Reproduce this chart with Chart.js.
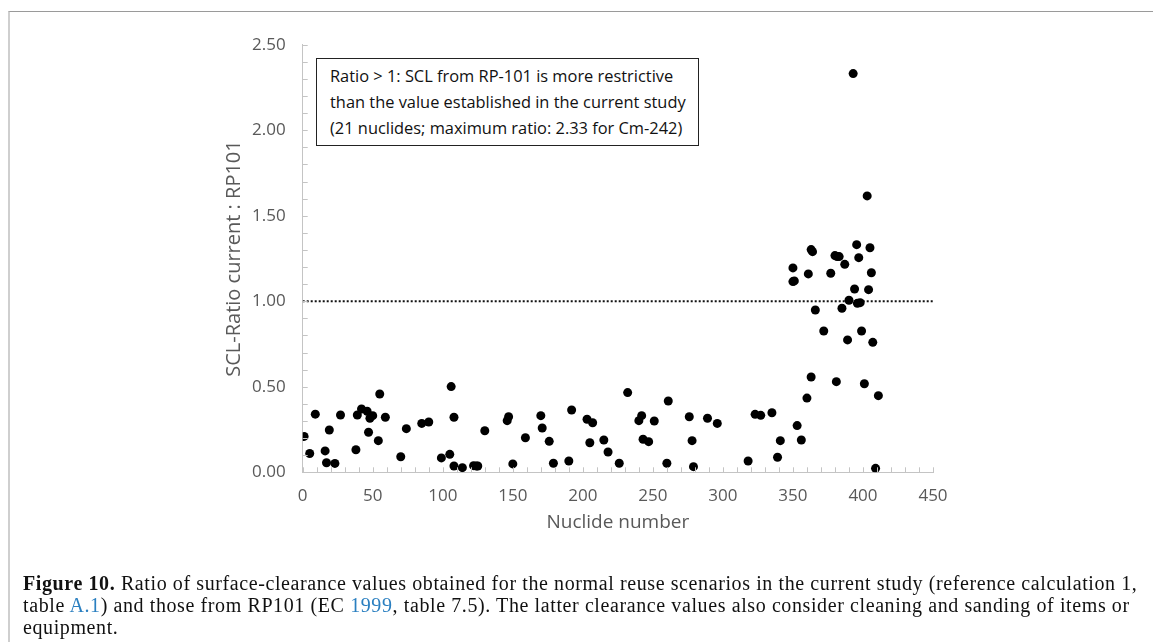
<!DOCTYPE html>
<html lang="en">
<head>
    <meta charset="UTF-8">
    <title>SCL ratio current : RP101</title>
    <style>
        body {
            margin: 0;
            background: #fff;
            width: 1153px;
            height: 642px;
            overflow: hidden;
            position: relative;
        }

        .frame {
            position: absolute;
            left: 8px;
            top: 11px;
            right: 0;
            bottom: 0;
            border-top: 1px solid #9a9a9a;
            border-left: 2px solid #cfcfcf;
        }

        #chart {
            position: absolute;
            left: 0;
            top: 0;
        }

        .note {
            position: absolute;
            left: 316px;
            top: 58px;
            width: 383px;
            height: 88px;
            border: 1px solid #222;
            background: #fff;
            font-family: 'Open Sans', sans-serif;
            font-size: 16.4px;
            line-height: 26px;
            color: #111;
            padding: 4px 0 0 13px;
            box-sizing: border-box;
            white-space: nowrap;
        }

        .caption {
            position: absolute;
            left: 23px;
            top: 572px;
            font-family: 'Liberation Serif', serif;
            font-size: 20px;
            letter-spacing: 0.6px;
            line-height: 22px;
            color: #111;
            white-space: nowrap;
        }

        .caption a {
            color: #2a7fc0;
            text-decoration: none;
        }
    </style>
    <script src="https://cdn.jsdelivr.net/npm/chart.js"></script>
</head>
<body>
    <div class="frame"></div>
    <canvas id="chart" width="1153" height="642"></canvas>
    <div class="note">
        Ratio &gt; 1: SCL from RP-101 is more restrictive<br>
        than the value established in the current study<br>
        (21 nuclides; maximum ratio: 2.33 for Cm-242)
    </div>
    <div class="caption">
        <b>Figure 10.</b> Ratio of surface-clearance values obtained for the normal reuse scenarios in the current study (reference calculation 1,<br>
        table <a href="#">A.1</a>) and those from RP101 (EC <a href="#">1999</a>, table 7.5). The latter clearance values also consider cleaning and sanding of items or<br>
        equipment.
    </div>
    <script>
        // nuclide index (x) and ratio current : RP101 (y)
        const nuclideNumbers = [
            1, 5, 9, 16, 17, 19, 23, 27, 38, 39,
            42, 46, 47, 48, 50, 54, 55, 59, 70, 74,
            85, 90, 99, 105, 106, 108, 108, 114, 122, 124,
            125, 130, 146, 147, 150, 159, 170, 171, 176, 179,
            190, 192, 203, 205, 207, 215, 218, 226, 232, 240,
            242, 243, 247, 251, 260, 261, 276, 278, 279, 289,
            296, 318, 323, 327, 335, 339, 341,
            350, 350, 351, 353, 356, 360, 361, 363, 363, 364,
            366, 372, 377, 380, 381, 381.5, 383, 385, 387, 389,
            390, 393, 394, 395.5, 396, 397, 398, 399, 401, 403,
            404, 405, 406, 407, 409, 411
        ];
        const ratios = [
            0.21, 0.11, 0.34, 0.125, 0.056, 0.247, 0.052, 0.335, 0.132, 0.335,
            0.37, 0.357, 0.234, 0.316, 0.331, 0.185, 0.458, 0.322, 0.091, 0.255,
            0.286, 0.294, 0.084, 0.105, 0.501, 0.322, 0.037, 0.027, 0.039, 0.037,
            0.037, 0.243, 0.302, 0.325, 0.049, 0.202, 0.331, 0.259, 0.181, 0.053,
            0.066, 0.364, 0.31, 0.173, 0.29, 0.189, 0.119, 0.053, 0.466, 0.302,
            0.331, 0.193, 0.179, 0.3, 0.053, 0.417, 0.325, 0.185, 0.033, 0.316,
            0.286, 0.066, 0.339, 0.333, 0.348, 0.088, 0.185,
            1.115, 1.195, 1.119, 0.273, 0.189, 0.434, 1.16, 0.557, 1.302, 1.29,
            0.949, 0.826, 1.164, 1.267, 0.53, 1.261, 1.261, 0.959, 1.216, 0.774,
            1.006, 2.331, 1.072, 1.331, 0.988, 1.255, 0.992, 0.826, 0.518, 1.616,
            1.068, 1.313, 1.167, 0.76, 0.023, 0.448
        ];

        const xRange = [0, 450];
        const yRange = [0, 2.5];
        const xLabelStep = 50;
        const yLabelStep = 0.5;
        const xMinorStep = 10;
        const yMinorStep = 0.1;
        const referenceRatio = 1;

        const points = nuclideNumbers.map((n, i) => ({ x: n, y: ratios[i] }));
        const refLine = xRange.map(x => ({ x: x, y: referenceRatio }));

        const axisGrey = '#c4c4c4';
        const textGrey = '#595959';

        // small tick marks pointing into the plot, like the original
        const insideTicks = {
            id: 'insideTicks',
            afterDraw(chart) {
                const ctx = chart.ctx;
                const xs = chart.scales.x;
                const ys = chart.scales.y;
                const len = 5;
                ctx.save();
                ctx.strokeStyle = axisGrey;
                ctx.lineWidth = 1;
                ctx.beginPath();
                for (let v = xRange[0]; v <= xRange[1] + 1e-9; v += xMinorStep) {
                    const px = Math.round(xs.getPixelForValue(v)) + 0.5;
                    ctx.moveTo(px, ys.bottom);
                    ctx.lineTo(px, ys.bottom - len);
                }
                for (let v = yRange[0]; v <= yRange[1] + 1e-9; v += yMinorStep) {
                    const py = Math.round(ys.getPixelForValue(v)) + 0.5;
                    ctx.moveTo(xs.left, py);
                    ctx.lineTo(xs.left + len, py);
                }
                ctx.stroke();
                ctx.restore();
            }
        };

        new Chart(document.getElementById('chart'), {
            type: 'scatter',
            data: {
                datasets: [{
                    label: 'Ratio',
                    data: points,
                    backgroundColor: '#000',
                    borderWidth: 0,
                    pointRadius: 4.5
                }, {
                    type: 'line',
                    label: 'Ratio = 1',
                    data: refLine,
                    borderColor: '#111',
                    borderWidth: 2,
                    borderDash: [2, 2],
                    pointRadius: 0,
                    fill: false
                }]
            },
            options: {
                responsive: false,
                animation: false,
                layout: {
                    padding: { left: 218, right: 220, top: 44.7, bottom: 103.6 }
                },
                plugins: {
                    legend: { display: false },
                    tooltip: { enabled: false }
                },
                scales: {
                    x: {
                        type: 'linear',
                        min: xRange[0],
                        max: xRange[1],
                        afterFit: axis => { axis.height = 66.1; },
                        grid: { display: false },
                        border: { color: axisGrey },
                        ticks: {
                            stepSize: xLabelStep,
                            padding: 6,
                            color: textGrey,
                            font: { family: 'Open Sans', size: 17 }
                        },
                        title: {
                            display: true,
                            text: 'Nuclide number',
                            color: textGrey,
                            font: { family: 'Open Sans', size: 19 }
                        }
                    },
                    y: {
                        min: yRange[0],
                        max: yRange[1],
                        afterFit: axis => { axis.width = 84.7; },
                        grid: { display: false },
                        border: { color: axisGrey },
                        ticks: {
                            stepSize: yLabelStep,
                            padding: 9,
                            color: textGrey,
                            font: { family: 'Open Sans', size: 17 },
                            callback: v => v.toFixed(2)
                        },
                        title: {
                            display: true,
                            text: 'SCL-Ratio current : RP101',
                            color: textGrey,
                            font: { family: 'Open Sans', size: 20 }
                        }
                    }
                }
            },
            plugins: [insideTicks]
        });
    </script>
</body>
</html>
